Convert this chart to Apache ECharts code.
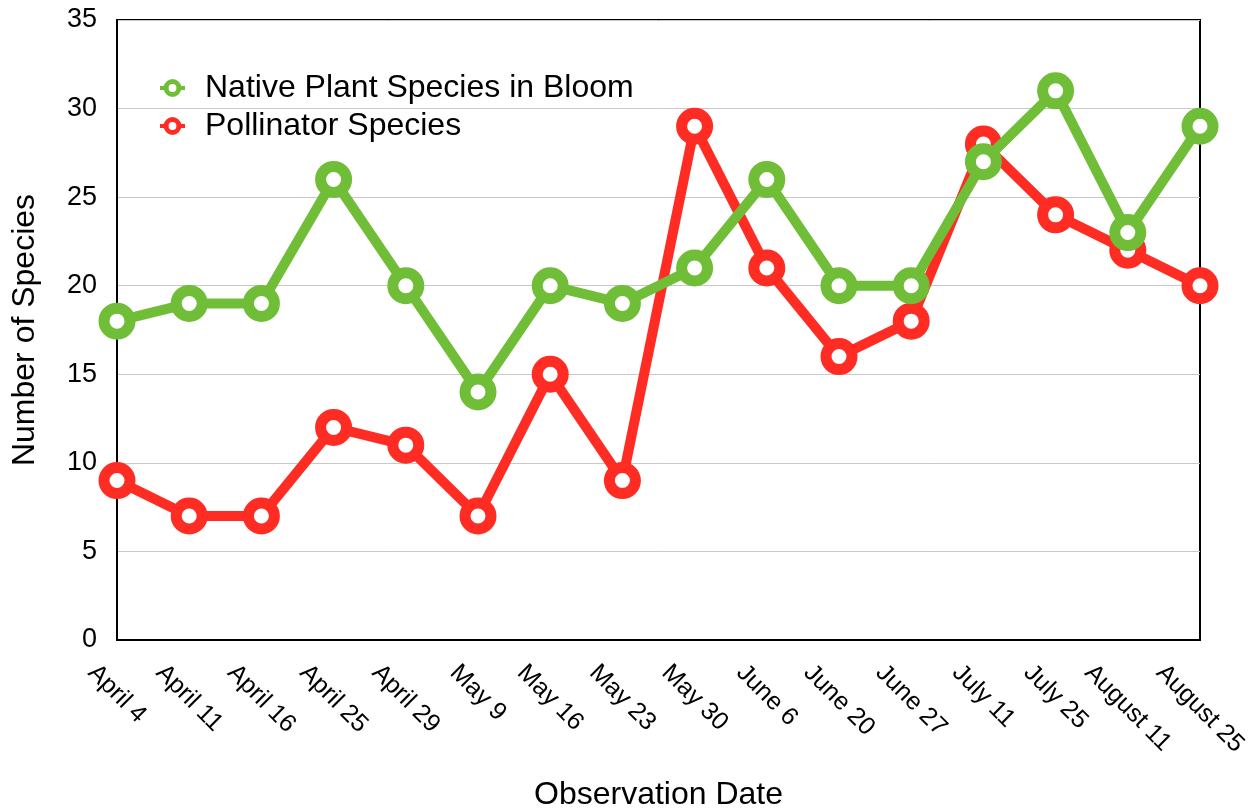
<!DOCTYPE html>
<html>
<head>
<meta charset="utf-8">
<title>Native Plants and Pollinators</title>
<script src="https://cdn.jsdelivr.net/npm/echarts@6/dist/echarts.min.js"></script>
<style>
  html, body { margin: 0; padding: 0; background: #fff; }
  #chart { width: 1249px; height: 808px; }
</style>
</head>
<body>
<div id="chart"></div>
<script>
// Observation dates and species counts
const dates = ['April 4', 'April 11', 'April 16', 'April 25', 'April 29', 'May 9', 'May 16', 'May 23',
  'May 30', 'June 6', 'June 20', 'June 27', 'July 11', 'July 25', 'August 11', 'August 25'];
const plantsInBloom = [18, 19, 19, 26, 20, 14, 20, 19, 21, 26, 20, 20, 27, 31, 23, 29];
const pollinators = [9, 7, 7, 12, 11, 7, 15, 9, 29, 21, 16, 18, 28, 24, 22, 20];
const yTicks = [0, 5, 10, 15, 20, 25, 30, 35];

const FONT = '"Liberation Sans", Arial, Helvetica, sans-serif';
const GREEN = '#70be38';
const RED = '#fe2c22';
const X_LABEL_SIZE = 25;
const X_LABEL_LINE = 25;

// Rotated date labels: centred under each tick, with the top of every label
// on the same line, so longer labels hang further down. The padding moves
// each label straight down by an amount that grows with its width.
const measureCtx = document.createElement('canvas').getContext('2d');
measureCtx.font = X_LABEL_SIZE + 'px "Liberation Sans"';
const xCategories = dates.map(d => {
  const w = measureCtx.measureText(d).width;
  const u = w / 4 + 2;
  return {
    value: d,
    textStyle: {
      align: 'center',
      verticalAlign: 'top',
      lineHeight: X_LABEL_LINE,
      padding: [Math.max(0, u - X_LABEL_LINE / 2), 0, 0, 2 * u]
    }
  };
});

function makeSeries(name, values, color, z) {
  return {
    name: name,
    type: 'line',
    data: values,
    z: z,
    symbol: 'circle',
    symbolSize: 26,
    showSymbol: true,
    lineStyle: { color: color, width: 10 },
    itemStyle: { color: '#ffffff', borderColor: color, borderWidth: 11 },
    emphasis: { disabled: true },
    animation: false
  };
}

const chart = echarts.init(document.getElementById('chart'), null, { renderer: 'canvas' });
chart.setOption({
  backgroundColor: '#ffffff',
  textStyle: { fontFamily: FONT, color: '#000' },
  grid: {
    left: 117, right: 49, top: 20, bottom: 168,
    outerBoundsMode: 'none',
    containLabel: false,
    show: true, borderColor: '#000', borderWidth: 2, backgroundColor: 'transparent'
  },
  legend: {
    orient: 'vertical',
    left: 153,
    top: 67,
    itemWidth: 25,
    itemHeight: 16,
    itemGap: 6,
    data: ['Native Plant Species in Bloom', 'Pollinator Species'],
    itemStyle: { borderWidth: 5 },
    lineStyle: { width: 4 },
    textStyle: { fontFamily: FONT, fontSize: 32, color: '#000', lineHeight: 32, padding: [0, 0, 0, 15] }
  },
  xAxis: {
    type: 'category',
    data: xCategories,
    boundaryGap: false,
    name: 'Observation Date',
    nameLocation: 'middle',
    nameGap: 139,
    nameMoveOverlap: false,
    nameTextStyle: { fontFamily: FONT, fontSize: 32, color: '#000' },
    axisLine: { show: true, lineStyle: { color: '#000', width: 2 } },
    axisTick: { show: false },
    splitLine: { show: false },
    axisLabel: {
      interval: 0,
      rotate: -45,
      align: 'center',
      verticalAlign: 'middle',
      margin: 26,
      fontFamily: FONT,
      fontSize: X_LABEL_SIZE,
      color: '#000'
    }
  },
  yAxis: {
    type: 'value',
    min: yTicks[0],
    max: yTicks[yTicks.length - 1],
    interval: yTicks[1] - yTicks[0],
    name: 'Number of Species',
    nameLocation: 'middle',
    nameGap: 76,
    nameMoveOverlap: false,
    nameTextStyle: { fontFamily: FONT, fontSize: 32, color: '#000' },
    axisLine: { show: true, lineStyle: { color: '#000', width: 2 } },
    axisTick: { show: false },
    splitLine: { show: true, lineStyle: { color: '#c8c8c8', width: 1 } },
    axisLabel: { margin: 20, fontFamily: FONT, fontSize: 27, color: '#000' }
  },
  series: [
    makeSeries('Native Plant Species in Bloom', plantsInBloom, GREEN, 4),
    makeSeries('Pollinator Species', pollinators, RED, 3)
  ]
});
</script>
</body>
</html>
